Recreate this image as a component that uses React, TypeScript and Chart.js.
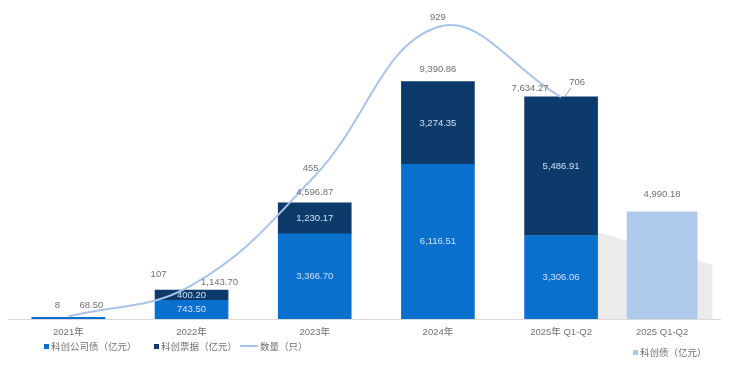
import React, { useEffect, useRef } from "react";
import { Chart, registerables } from "chart.js";

Chart.register(...registerables);

const categories = ["2021年", "2022年", "2023年", "2024年", "2025年 Q1-Q2", "2025 Q1-Q2"];
const categoryPos = [0, 1, 2, 3, 4, 4.82];
const bondValues = [68.5, 743.5, 3366.7, 6116.51, 3306.06];
const noteValues = [0, 400.2, 1230.17, 3274.35, 5486.91];
const totalLabels = ["68.50", "1,143.70", "4,596.87", "9,390.86", "7,634.27"];
const countValues = [8, 107, 455, 929, 706];
const sciBondValues = [4990.18];
const shadowPos = [4.29, 5.23];
const shadowValues = [3443, 2137];

const fmt = (v: number) =>
  v.toLocaleString("en-US", { minimumFractionDigits: 2, maximumFractionDigits: 2 });

const FONT = "'Liberation Sans', 'Noto Sans CJK SC', sans-serif";
const GRAY = "#707070";

const labelPlugin = {
  id: "labels",
  afterDatasetsDraw(chart: any) {
    const ctx = chart.ctx;
    ctx.save();
    ctx.font = `9.5px ${FONT}`;
    ctx.textAlign = "center";
    ctx.textBaseline = "middle";
    const bondMeta = chart.getDatasetMeta(1);
    const noteMeta = chart.getDatasetMeta(2);
    ctx.fillStyle = "#CFE0F6";
    bondValues.forEach((v, i) => {
      if (i === 0) return;
      const el = bondMeta.data[i];
      ctx.fillText(fmt(v), el.x, (el.y + el.base) / 2);
    });
    noteValues.forEach((v, i) => {
      if (i === 0) return;
      const el = noteMeta.data[i];
      ctx.fillText(fmt(v), el.x, (el.y + el.base) / 2);
    });
    const totalOff = [[23, -12], [28, -8], [0, -10], [0, -12], [-31, -8]];
    ctx.fillStyle = GRAY;
    totalLabels.forEach((t, i) => {
      const el = noteMeta.data[i];
      const top = Math.min(el.y, bondMeta.data[i].y);
      ctx.fillText(t, el.x + totalOff[i][0], top + totalOff[i][1]);
    });
    const sciMeta = chart.getDatasetMeta(3);
    sciBondValues.forEach((v, i) => {
      const el = sciMeta.data[i];
      ctx.fillText(fmt(v), el.x, el.y - 17);
    });
    const lineMeta = chart.getDatasetMeta(0);
    const lineOff = [[-11, -11], [-33, -11], [-4, -8], [0, -10], [16, -15]];
    countValues.forEach((v, i) => {
      const el = lineMeta.data[i];
      ctx.fillText(String(v), el.x + lineOff[i][0], el.y + lineOff[i][1]);
    });
    const last = lineMeta.data[4];
    ctx.strokeStyle = "#8C8C8C";
    ctx.lineWidth = 0.8;
    ctx.beginPath();
    ctx.moveTo(last.x + 4, last.y - 1);
    ctx.lineTo(last.x + 10, last.y - 9);
    ctx.stroke();
    ctx.restore();
  },
};

export default function App() {
  const ref = useRef<HTMLCanvasElement>(null);
  useEffect(() => {
    if (!ref.current) return;
    const chart = new Chart(ref.current, {
      type: "bar",
      data: {
        datasets: [
          {
            type: "line",
            label: "数量（只）",
            data: countValues.map((v, i) => ({ x: categoryPos[i], y: v })),
            yAxisID: "y1",
            borderColor: "#A9C3E9",
            borderWidth: 2,
            pointRadius: 0,
            tension: 0.4,
            order: 1,
          } as any,
          {
            label: "科创公司债（亿元）",
            data: bondValues.map((v, i) => ({ x: categoryPos[i], y: v })),
            backgroundColor: "#0A70CE",
            yAxisID: "y",
            stack: "a",
            barThickness: 73,
            order: 5,
          },
          {
            label: "科创票据（亿元）",
            data: noteValues.map((v, i) => ({ x: categoryPos[i], y: v })),
            backgroundColor: "#0B3A6B",
            yAxisID: "y",
            stack: "a",
            barThickness: 73,
            order: 5,
          },
          {
            label: "科创债（亿元）",
            data: sciBondValues.map((v) => ({ x: categoryPos[5], y: v })),
            backgroundColor: "#AFC9EA",
            yAxisID: "y2",
            stack: "a",
            barThickness: 70,
            order: 4,
          },
          {
            type: "line",
            label: "shadow",
            data: shadowValues.map((v, i) => ({ x: shadowPos[i], y: v })),
            yAxisID: "y",
            borderWidth: 0,
            pointRadius: 0,
            backgroundColor: "#EBEBEB",
            fill: "origin",
            tension: 0,
            order: 10,
          } as any,
        ],
      },
      options: {
        animation: false,
        responsive: true,
        maintainAspectRatio: false,
        layout: { padding: { top: 10, bottom: 19, left: 8, right: 10 } },
        plugins: { legend: { display: false }, tooltip: { enabled: false } },
        scales: {
          x: {
            type: "linear",
            offset: false,
            min: -0.49,
            max: 5.29,
            grid: { display: false, drawTicks: false },
            border: { display: true, color: "#D9D9D9", width: 1 },
            afterBuildTicks: (s: any) => {
              s.ticks = categoryPos.map((v) => ({ value: v }));
            },
            afterFit: (s: any) => {
              s.height = 30;
            },
            ticks: {
              autoSkip: false,
              maxRotation: 0,
              padding: 8,
              color: GRAY,
              font: { size: 9.5, family: FONT },
              callback: (_v: any, i: number) => categories[i],
            },
          } as any,
          y: { display: false, stacked: true, min: 0, max: 12228 },
          y1: { display: false, min: 0, max: 983 },
          y2: { display: false, stacked: true, min: 0, max: 14372 },
        },
      },
      plugins: [labelPlugin],
    });
    return () => chart.destroy();
  }, []);

  const legendText: React.CSSProperties = {
    fontFamily: FONT,
    fontSize: 9.5,
    color: GRAY,
    position: "absolute",
    whiteSpace: "nowrap",
    lineHeight: "12px",
  };
  const sq = (c: string): React.CSSProperties => ({
    display: "inline-block",
    width: 5,
    height: 5,
    background: c,
    marginRight: 2,
    verticalAlign: "middle",
    position: "relative",
    top: -1,
  });

  return (
    <div style={{ position: "absolute", left: 0, top: 0, width: 730, height: 368, background: "#fff" }}>
      <canvas ref={ref} />
      <div style={{ ...legendText, left: 44, top: 341 }}>
        <span style={sq("#0A70CE")} />科创公司债（亿元）
      </div>
      <div style={{ ...legendText, left: 154, top: 341 }}>
        <span style={sq("#0B3A6B")} />科创票据（亿元）
      </div>
      <div style={{ ...legendText, left: 240, top: 341 }}>
        <span style={{ display: "inline-block", width: 18, height: 2, background: "#A9C3E9", verticalAlign: "middle", marginRight: 2, position: "relative", top: -1 }} />
        数量（只）
      </div>
      <div style={{ ...legendText, left: 633, top: 347 }}>
        <span style={sq("#AFC9EA")} />科创债（亿元）
      </div>
    </div>
  );
}
